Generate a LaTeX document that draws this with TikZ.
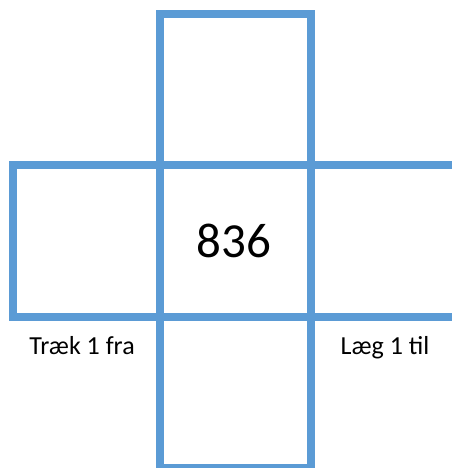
\documentclass[tikz,border=0pt]{standalone}
\usepackage{fontspec}
\setmainfont{Carlito}
\definecolor{boxblue}{HTML}{5B9BD5}
\tikzset{
  cell/.style={draw=boxblue,line width=8pt,line join=miter},
  bignum/.style={font=\fontsize{49}{51}\selectfont,anchor=base,inner sep=0pt},
  sidelabel/.style={font=\fontsize{26}{28}\selectfont,anchor=base,inner sep=0pt}
}
\begin{document}
\begin{tikzpicture}[x=1pt,y=-1pt]
        \useasboundingbox (0,0) rectangle (451,468);
        \draw[cell] (160,14) rectangle (311,165);
        \draw[cell] (13,165) rectangle (160,317);
        \draw[cell] (160,165) rectangle (311,317);
        \draw[cell] (160,317) rectangle (311,468);
        \draw[cell] (311,165) -- (455,165);
        \draw[cell] (311,317) -- (455,317);
        \node[bignum] (tal) at (234,257) {836};
        \node[sidelabel] (traek) at (82,354) {Træk 1 fra};
        \node[sidelabel] (laeg) at (385,354) {Læg 1 til};
      \end{tikzpicture}
\end{document}
